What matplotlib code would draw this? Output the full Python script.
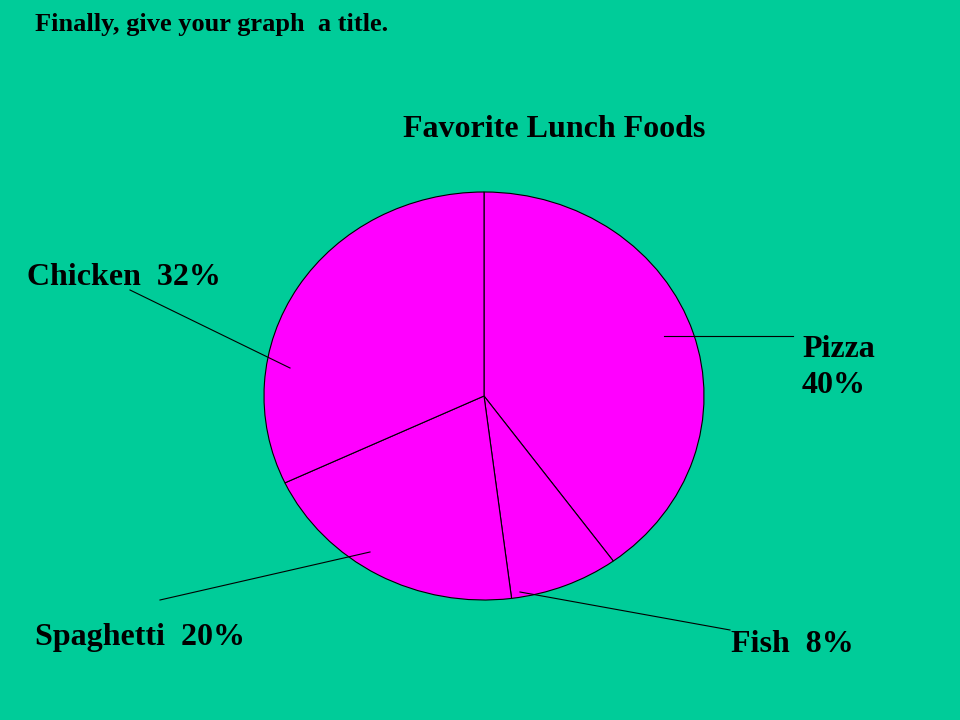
import matplotlib.pyplot as plt

# Data
foods = ['Pizza', 'Fish', 'Spaghetti', 'Chicken']
shares = [40, 8, 20, 32]
labels = ['Pizza\n40%', 'Fish  8%', 'Spaghetti  20%', 'Chicken  32%']

bg = '#00CC99'
W, H = 960, 720

plt.rcParams['font.family'] = ['Liberation Serif', 'DejaVu Serif']

fig = plt.figure(figsize=(9.6, 7.2), dpi=100, facecolor=bg)

# pie is drawn a bit squashed, like the slide
ax = fig.add_axes([264 / W, 1 - 600 / H, 440 / W, 408 / H])
ax.pie(shares, colors=['#FF00FF'] * len(shares), startangle=90, counterclock=False,
       radius=1, wedgeprops=dict(edgecolor='black', linewidth=0.8))
ax.set_aspect('auto')
ax.set_xlim(-1, 1)
ax.set_ylim(-1, 1)
ax.axis('off')


def px(x, y):
    return (x / W, 1 - y / H)


# label text positions (left, baseline of last line) and leader lines
text_pos = [(802, 393), (731, 652), (35, 645), (27, 285)]
leaders = [((793, 336), (664, 336)),
           ((730, 630), (520, 592)),
           ((160, 600), (370, 552)),
           ((130, 290), (290, 368))]

for lab, (tx, ty), (p0, p1) in zip(labels, text_pos, leaders):
    fig.text(*px(tx, ty), lab, fontsize=23, fontweight='bold', ha='left',
             va='baseline', linespacing=1.32)
    fig.add_artist(plt.Line2D([px(*p0)[0], px(*p1)[0]], [px(*p0)[1], px(*p1)[1]],
                              color='black', linewidth=0.8))

fig.text(*px(403, 137), 'Favorite Lunch Foods', fontsize=23, fontweight='bold',
         ha='left', va='baseline')
fig.text(*px(35, 31), 'Finally, give your graph  a title.', fontsize=19,
         fontweight='bold', ha='left', va='baseline')

fig.savefig('out.png', dpi=100, facecolor=bg)
